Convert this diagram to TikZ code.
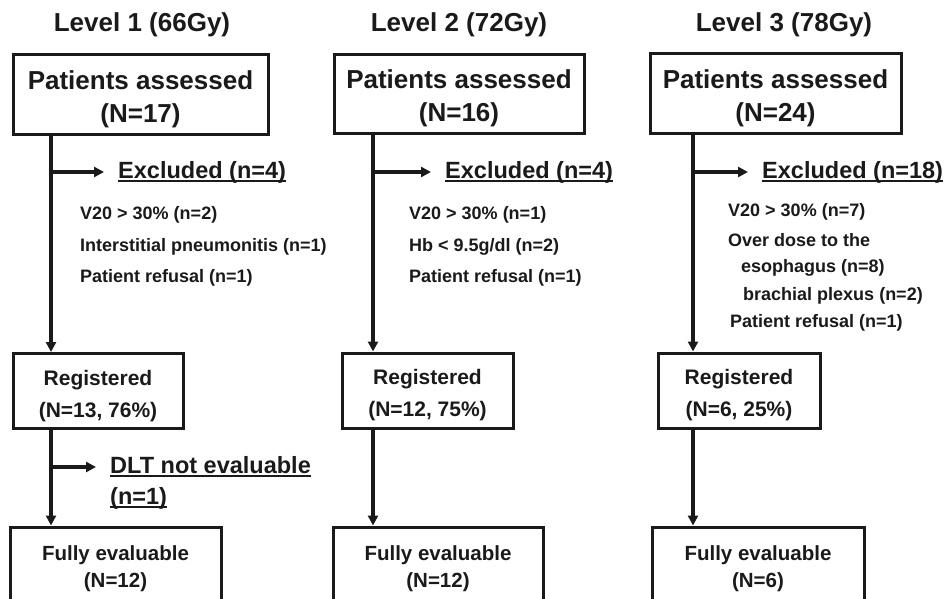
\documentclass[tikz,border=0pt]{standalone}
\usepackage{fontspec}
\setmainfont{Liberation Sans}
\usetikzlibrary{arrows.meta}
\definecolor{ink}{HTML}{1A1A1A}
\newcommand{\myul}[1]{\setbox0\hbox{#1}\rlap{\raisebox{-3.8pt}{\rule{\wd0}{2pt}}}\box0}
\begin{document}
\begin{tikzpicture}[x=1pt,y=-1pt,
  box/.style={draw=ink, line width=3pt, inner sep=0pt, align=center, text=ink},
  title/.style={inner sep=0pt, text=ink, font=\bfseries\fontsize{26}{30}\selectfont},
  pa/.style={box, font=\bfseries\fontsize{26}{33}\selectfont},
  reg/.style={box, font=\bfseries\fontsize{21}{32}\selectfont},
  full/.style={box, font=\bfseries\fontsize{20.5}{27}\selectfont},
  item/.style={anchor=west, inner sep=0pt, text=ink, font=\bfseries\fontsize{18}{21}\selectfont},
  head/.style={anchor=west, inner sep=0pt, text=ink, font=\bfseries\fontsize{23.5}{27}\selectfont},
  arr/.style={draw=ink, line width=3.4pt, -{Triangle[length=10pt,width=10pt]}},
  side/.style={arr, shorten >=14pt}
]
\useasboundingbox (0,0) rectangle (944,599);
\clip (0,0) rectangle (944,599);
\fill[white] (0,0) rectangle (944,599);

% ---------- titles
\node[title] (t1) at (142,25) {Level 1 (66Gy)};
\node[title] (t2) at (459,25) {Level 2 (72Gy)};
\node[title] (t3) at (784,25) {Level 3 (78Gy)};

% ---------- top boxes
\node[pa, minimum width=255pt, minimum height=79pt] (pa1) at (140.5,94.5) {\rule{0pt}{28pt}Patients assessed\\(N=17)};
\node[pa, minimum width=250pt, minimum height=78pt] (pa2) at (459,94) {\rule{0pt}{28pt}Patients assessed\\(N=16)};
\node[pa, minimum width=251pt, minimum height=79pt] (pa3) at (775.5,93.5) {\rule{0pt}{28pt}Patients assessed\\(N=24)};

% ---------- registered boxes
\node[reg, minimum width=170pt, minimum height=75pt] (rg1) at (98,391) {\rule{0pt}{25pt}Registered\\(N=13, 76\%)};
\node[reg, minimum width=171pt, minimum height=75pt] (rg2) at (427.5,390.5) {\rule{0pt}{25pt}Registered\\(N=12, 75\%)};
\node[reg, minimum width=162pt, minimum height=75pt] (rg3) at (739,390.5) {\rule{0pt}{25pt}Registered\\(N=6, 25\%)};

% ---------- fully evaluable boxes (cut by the lower edge)
\node[full, minimum width=211pt, minimum height=80pt] (fe1) at (115.5,567) {\rule{0pt}{19pt}Fully evaluable\\(N=12)};
\node[full, minimum width=210pt, minimum height=80pt] (fe2) at (438,567) {\rule{0pt}{19pt}Fully evaluable\\(N=12)};
\node[full, minimum width=212pt, minimum height=80pt] (fe3) at (758,567) {\rule{0pt}{19pt}Fully evaluable\\(N=6)};

% ---------- spine coordinates
\coordinate (s1) at (51,0);
\coordinate (s2) at (373,0);
\coordinate (s3) at (693,0);

% ---------- excluded heads
\node[head] (ex1) at (118,172) {\myul{Excluded (n=4)}};
\node[head] (ex2) at (445,172) {\myul{Excluded (n=4)}};
\node[head] (ex3) at (762,172) {\myul{Excluded (n=18)}};

% ---------- reasons
\node[item] (a1) at (80,215) {V20 > 30\% (n=2)};
\node[item] (a2) at (80,247) {Interstitial pneumonitis (n=1)};
\node[item] (a3) at (80,278) {Patient refusal (n=1)};

\node[item] (b1) at (409,215) {V20 > 30\% (n=1)};
\node[item] (b2) at (409,247) {Hb < 9.5g/dl (n=2)};
\node[item] (b3) at (409,278) {Patient refusal (n=1)};

\node[item] (c1) at (728,212) {V20 > 30\% (n=7)};
\node[item] (c2) at (728,240) {Over dose to the};
\node[item] (c3) at (741,268) {esophagus (n=8)};
\node[item] (c4) at (743,296) {brachial plexus (n=2)};
\node[item] (c5) at (730,323) {Patient refusal (n=1)};

% ---------- DLT
\node[head] (d1) at (110,467) {\myul{DLT not evaluable}};
\node[head] (d2) at (110,498) {\myul{(n=1)}};

% ---------- connectors
\draw[arr] (s1 |- pa1.south) -- (s1 |- rg1.north);
\draw[arr] (s2 |- pa2.south) -- (s2 |- rg2.north);
\draw[arr] (s3 |- pa3.south) -- (s3 |- rg3.north);

\draw[arr] (s1 |- rg1.south) -- (s1 |- fe1.north);
\draw[arr] (s2 |- rg2.south) -- (s2 |- fe2.north);
\draw[arr] (s3 |- rg3.south) -- (s3 |- fe3.north);

\draw[side] (s1 |- ex1.west) -- (ex1.west);
\draw[side] (s2 |- ex2.west) -- (ex2.west);
\draw[side] (s3 |- ex3.west) -- (ex3.west);
\draw[side] (s1 |- d1.west) -- (d1.west);
\end{tikzpicture}
\end{document}
